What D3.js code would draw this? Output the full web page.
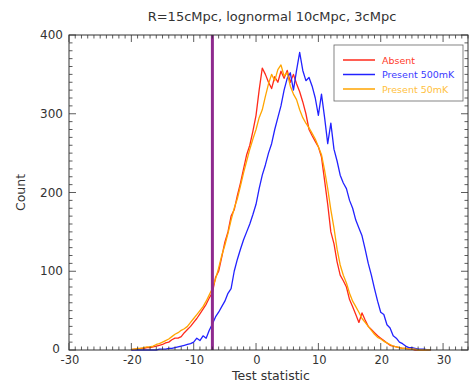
<!DOCTYPE html>
<html>
<head>
<meta charset="utf-8">
<script src="https://cdn.jsdelivr.net/npm/d3@7"></script>
<style>
  body { margin: 0; background: #fff; }
  svg { font-family: "DejaVu Sans", sans-serif; }
</style>
</head>
<body>
<svg width="471" height="384"></svg>
<script>
const bins = [-20, -19.5, -19, -18.5, -18, -17.5, -17, -16.5, -16, -15.5, -15, -14.5, -14, -13.5, -13, -12.5,
  -12, -11.5, -11, -10.5, -10, -9.5, -9, -8.5, -8, -7.5, -7, -6.5, -6, -5.5, -5, -4.5, -4, -3.5, -3, -2.5,
  -2, -1.5, -1, -0.5, 0, 0.5, 1, 1.5, 2, 2.5, 3, 3.5, 4, 4.5, 5, 5.5, 6, 6.5, 7, 7.5, 8, 8.5, 9, 9.5,
  10, 10.5, 11, 11.5, 12, 12.5, 13, 13.5, 14, 14.5, 15, 15.5, 16, 16.5, 17, 17.5, 18, 18.5, 19, 19.5,
  20, 20.5, 21, 21.5, 22, 22.5, 23, 23.5, 24, 24.5, 25, 25.5, 26, 26.5, 27, 27.5, 28];

const absent = [0, 1, 1, 2, 2, 3, 3, 4, 5, 6, 7, 9, 10, 13, 15, 15,
  17, 22, 26, 30, 35, 40, 46, 52, 58, 66, 73, 92, 100, 118, 137, 150, 170, 178, 196, 212,
  230, 248, 260, 278, 298, 330, 358, 350, 340, 332, 347, 340, 354, 345, 355, 340, 350, 338, 328, 315, 300, 280, 272, 265,
  258, 245, 215, 185, 150, 135, 112, 95, 88, 80, 64, 55, 45, 35, 47, 38, 30, 26, 22, 18,
  15, 12, 9, 6, 5, 4, 3, 2, 2, 1, 1, 0, 0, 0, 0, 0, 0];

const present500 = [0, 0, 0, 0, 0, 0, 0, 0, 0, 1, 1, 1, 2, 2, 3, 4,
  5, 6, 7, 8, 10, 15, 12, 18, 15, 25, 33, 42, 48, 55, 62, 72, 78, 100, 115, 128,
  140, 150, 160, 172, 185, 205, 222, 235, 250, 262, 280, 295, 310, 330, 345, 352, 330, 355, 378, 355, 342, 346, 335, 320,
  298, 325, 295, 262, 288, 255, 240, 222, 212, 205, 190, 180, 165, 155, 145, 128, 110, 95, 78, 62,
  48, 45, 32, 28, 18, 15, 10, 8, 5, 3, 3, 2, 1, 1, 1, 0, 0];

const present50 = [1, 1, 2, 2, 3, 4, 4, 5, 7, 8, 10, 12, 14, 17, 20, 22,
  25, 27, 30, 35, 40, 45, 50, 55, 62, 70, 78, 90, 104, 120, 133, 148, 165, 180, 192, 208,
  225, 240, 255, 268, 280, 295, 305, 322, 338, 350, 342, 356, 362, 348, 352, 335, 325, 318, 305, 295, 288, 282, 275, 268,
  258, 248, 228, 205, 178, 155, 128, 108, 95, 85, 72, 62, 55, 48, 40, 35, 30, 25, 20, 16,
  14, 11, 9, 7, 5, 4, 3, 2, 2, 1, 1, 1, 0, 0, 0, 0, 0];

const seriesNames = ['Absent', 'Present 500mK', 'Present 50mK'];
const seriesColors = ['#ff2a1a', '#2222ff', '#ffa500'];
const legendTextColors = ['#ff3a2a', '#3a3aff', '#ffbf40'];
const threshold = -7;
const xTicks = [-30, -20, -10, 0, 10, 20, 30];
const yTicks = [0, 100, 200, 300, 400];

const svg = d3.select('svg');
const m = {left: 69, right: 468, top: 35, bottom: 350};

const x = d3.scaleLinear().domain([-30, 34]).range([m.left, m.right]);
const y = d3.scaleLinear().domain([0, 400]).range([m.bottom, m.top]);
const ink = '#333';

// draw series first, frame on top
const line = d3.line().x(d => x(d[0])).y(d => y(d[1]));
[absent, present500, present50].forEach((vals, i) => {
  svg.append('path')
    .attr('fill', 'none')
    .attr('stroke', seriesColors[i])
    .attr('stroke-width', 1.3)
    .attr('stroke-linejoin', 'round')
    .attr('d', line(bins.map((b, j) => [b, vals[j]])));
});

svg.append('line')
  .attr('x1', x(threshold)).attr('x2', x(threshold))
  .attr('y1', m.top).attr('y2', m.bottom)
  .attr('stroke', '#8e2a8e')
  .attr('stroke-width', 3);

// frame
svg.append('rect')
  .attr('x', m.left).attr('y', m.top)
  .attr('width', m.right - m.left).attr('height', m.bottom - m.top)
  .attr('fill', 'none').attr('stroke', ink).attr('stroke-width', 1);

// inward ticks on all four sides
const xMinor = d3.range(-30, 35, 1);
const yMinor = d3.range(0, 401, 10);
const tickG = svg.append('g').attr('stroke', ink).attr('stroke-width', 0.8);
xMinor.forEach(v => {
  const len = v % 10 === 0 ? 7 : 3.5;
  tickG.append('line').attr('x1', x(v)).attr('x2', x(v)).attr('y1', m.bottom).attr('y2', m.bottom - len);
  tickG.append('line').attr('x1', x(v)).attr('x2', x(v)).attr('y1', m.top).attr('y2', m.top + len);
});
yMinor.forEach(v => {
  const len = v % 100 === 0 ? 7 : 3.5;
  tickG.append('line').attr('x1', m.left).attr('x2', m.left + len).attr('y1', y(v)).attr('y2', y(v));
  tickG.append('line').attr('x1', m.right).attr('x2', m.right - len).attr('y1', y(v)).attr('y2', y(v));
});

svg.append('g')
  .selectAll('text')
  .data(xTicks)
  .join('text')
    .attr('x', d => x(d) + 1)
    .attr('y', m.bottom + 14)
    .attr('text-anchor', 'middle')
    .attr('font-size', 11.5)
    .attr('fill', ink)
    .text(d => d);

svg.append('g')
  .selectAll('text')
  .data(yTicks)
  .join('text')
    .attr('x', d => d === 0 ? m.left - 9 : m.left - 6)
    .attr('y', d => d === 0 ? y(d) + 3 : y(d) + 4)
    .attr('text-anchor', 'end')
    .attr('font-size', 12)
    .attr('fill', ink)
    .text(d => d);

svg.append('text')
  .attr('x', 272).attr('y', 21)
  .attr('text-anchor', 'middle').attr('font-size', 13).attr('fill', ink)
  .text('R=15cMpc, lognormal 10cMpc, 3cMpc');

svg.append('text')
  .attr('x', 271).attr('y', 380)
  .attr('text-anchor', 'middle').attr('font-size', 12.5).attr('fill', ink)
  .text('Test statistic');

svg.append('text')
  .attr('transform', `translate(25,${(m.top + m.bottom) / 2}) rotate(-90)`)
  .attr('text-anchor', 'middle').attr('font-size', 12.5).attr('fill', ink)
  .text('Count');

// legend
const legend = svg.append('g').attr('transform', 'translate(334,45)');
legend.append('rect')
  .attr('width', 129).attr('height', 56)
  .attr('fill', '#fff').attr('stroke', '#666').attr('stroke-width', 0.8);
seriesNames.forEach((name, i) => {
  const ly = 15 + i * 14.5;
  legend.append('line')
    .attr('x1', 9).attr('x2', 41).attr('y1', ly).attr('y2', ly)
    .attr('stroke', seriesColors[i]).attr('stroke-width', 1.5);
  legend.append('text')
    .attr('x', 48).attr('y', ly + 3.5)
    .attr('font-size', 9.5).attr('fill', legendTextColors[i])
    .text(name);
});
</script>
</body>
</html>
